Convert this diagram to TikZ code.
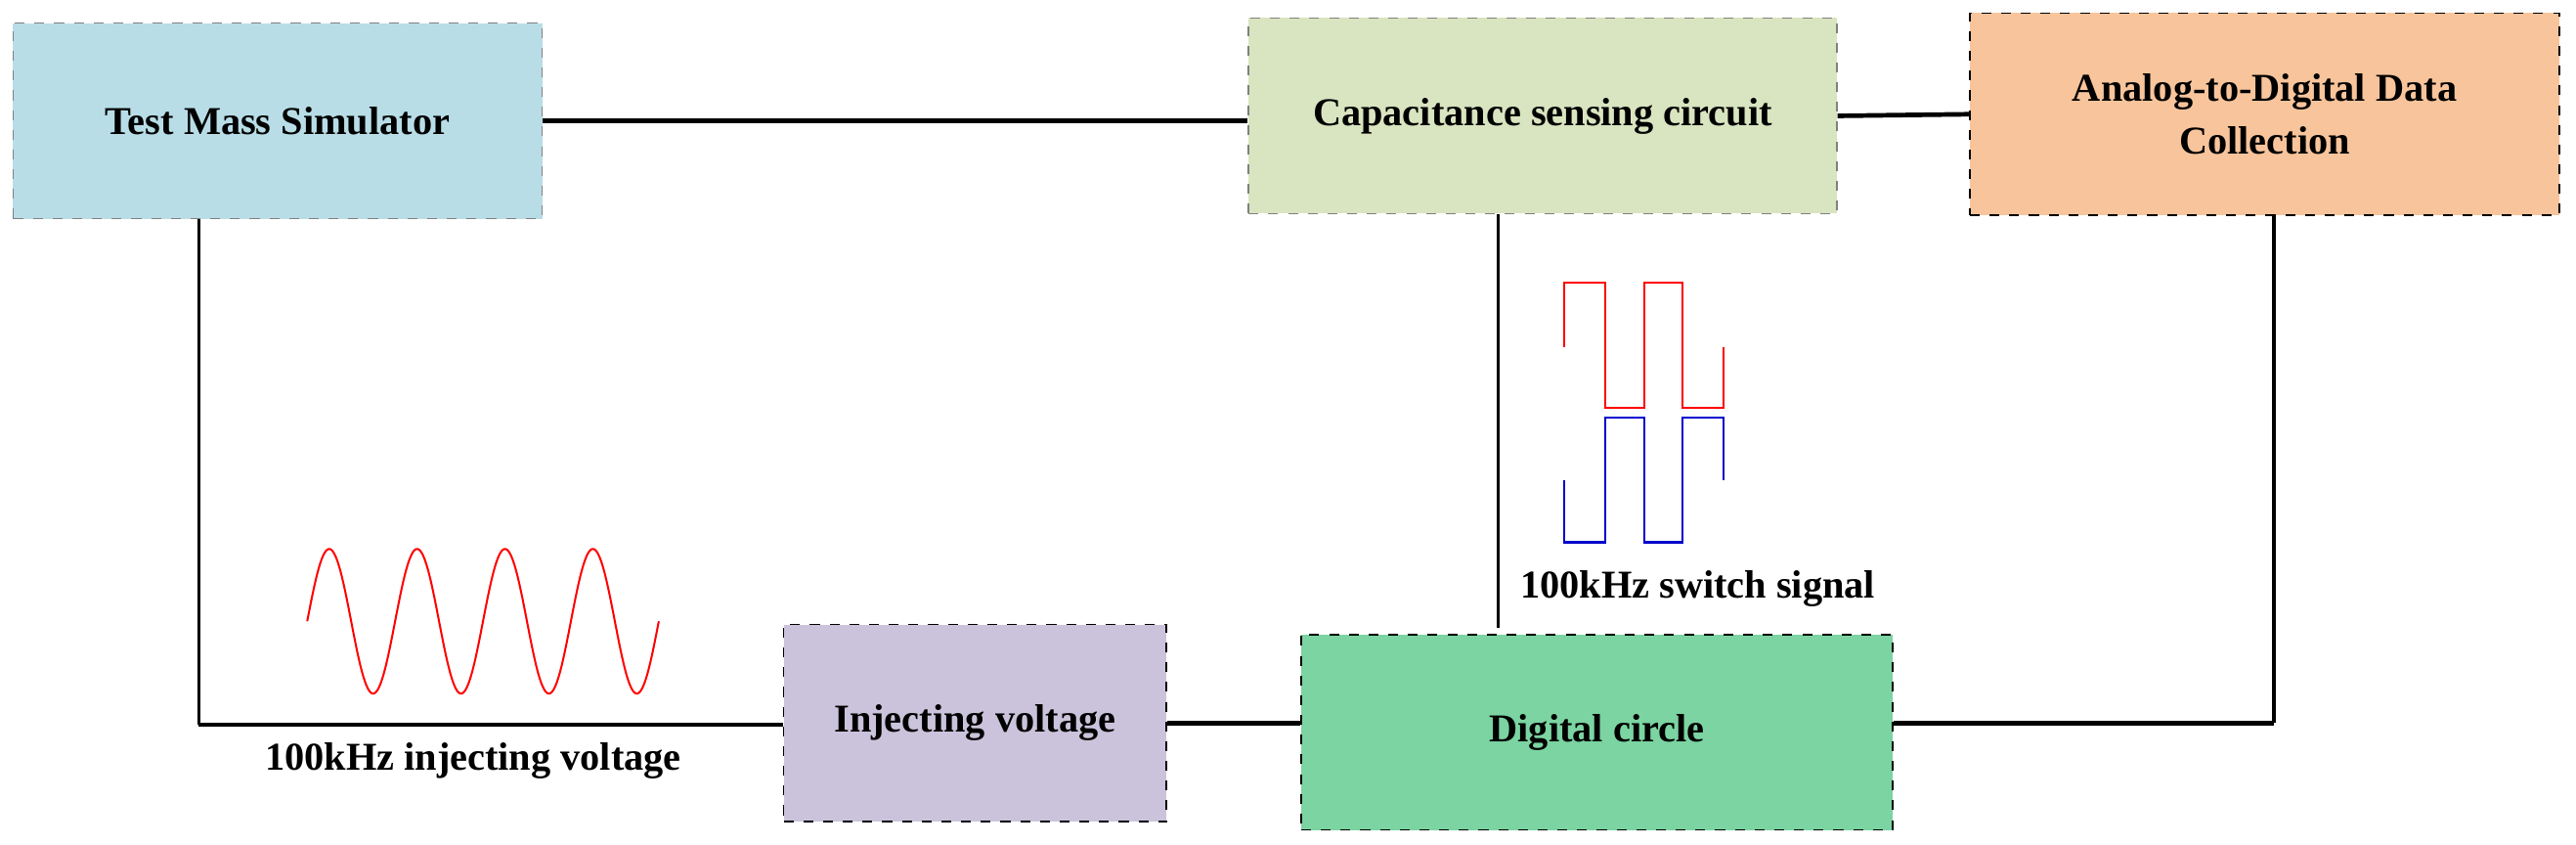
\documentclass[tikz,border=0pt]{standalone}
\usepackage{fontspec}
\setmainfont{Liberation Serif}
\begin{document}
\begin{tikzpicture}[x=0.5pt,y=-0.5pt,
  box/.style={draw, dashed, line width=0.5pt, minimum width=#1, font=\bfseries\fontsize{12}{14}\selectfont, align=center, inner sep=0pt},
  thick line/.style={line width=1.4pt},
  thin line/.style={line width=1pt},
  lbl/.style={font=\bfseries\fontsize{12}{14}\selectfont, inner sep=0pt}]
\useasboundingbox (0,0) rectangle (1568,514);
\definecolor{cTM}{HTML}{B8DDE7}
\definecolor{cCap}{HTML}{D9E4C0}
\definecolor{cADC}{HTML}{F8C49B}
\definecolor{cInj}{HTML}{CBC3DB}
\definecolor{cDig}{HTML}{7BD4A1}
\node[box=161pt, minimum height=59.5pt, fill=cTM, draw=gray] (TM) at (169,73.5) {Test Mass Simulator};
\node[box=179pt, minimum height=59.5pt, fill=cCap, draw=gray] (Cap) at (939,70.5) {Capacitance sensing circuit};
\node[box=179.5pt, minimum height=61.5pt, fill=cADC] (ADC) at (1378.5,69.5) {Analog-to-Digital Data\\[2pt]Collection};
\node[box=116.5pt, minimum height=60pt, fill=cInj] (Inj) at (593.5,440) {Injecting voltage};
\node[box=180pt, minimum height=59.5pt, fill=cDig] (Dig) at (972,445.5) {Digital circle};
\coordinate (c1) at (121,441);
\coordinate (c2) at (1384,440);
\coordinate (c3) at (912,382);
\draw[thick line] (TM.east) -- (TM.east -| Cap.west);
\draw[thick line] (Cap.east) -- (ADC.west);
\draw[thin line] (TM.south -| c1) -- (c1);
\draw[thick line] (c1) -- (Inj.west |- c1);
\draw[thick line] (Inj.east) -- (Inj.east -| Dig.west);
\draw[thick line] (Dig.east |- c2) -- (c2);
\draw[thin line] (c2) -- (c2 |- ADC.south);
\draw[thin line] (Cap.south -| c3) -- (c3);
\node[lbl] (l1) at (288,463) {100kHz injecting voltage};
\node[lbl, anchor=west] (l2) at (925,358) {100kHz switch signal};
\draw[red, line width=0.6pt, domain=0:214, samples=300, smooth, variable=\t]
  plot ({187+\t},{378-44*sin(\t/53.5*360)});
\draw[red, line width=0.7pt] (952,211) -- (952,172) -- (977,172) -- (977,248) -- (1001,248) -- (1001,172) -- (1024,172) -- (1024,248) -- (1049,248) -- (1049,211);
\draw[blue!80!black, line width=0.7pt] (952,292) -- (952,330) -- (977,330) -- (977,254) -- (1001,254) -- (1001,330) -- (1024,330) -- (1024,254) -- (1049,254) -- (1049,292);
\end{tikzpicture}
\end{document}
